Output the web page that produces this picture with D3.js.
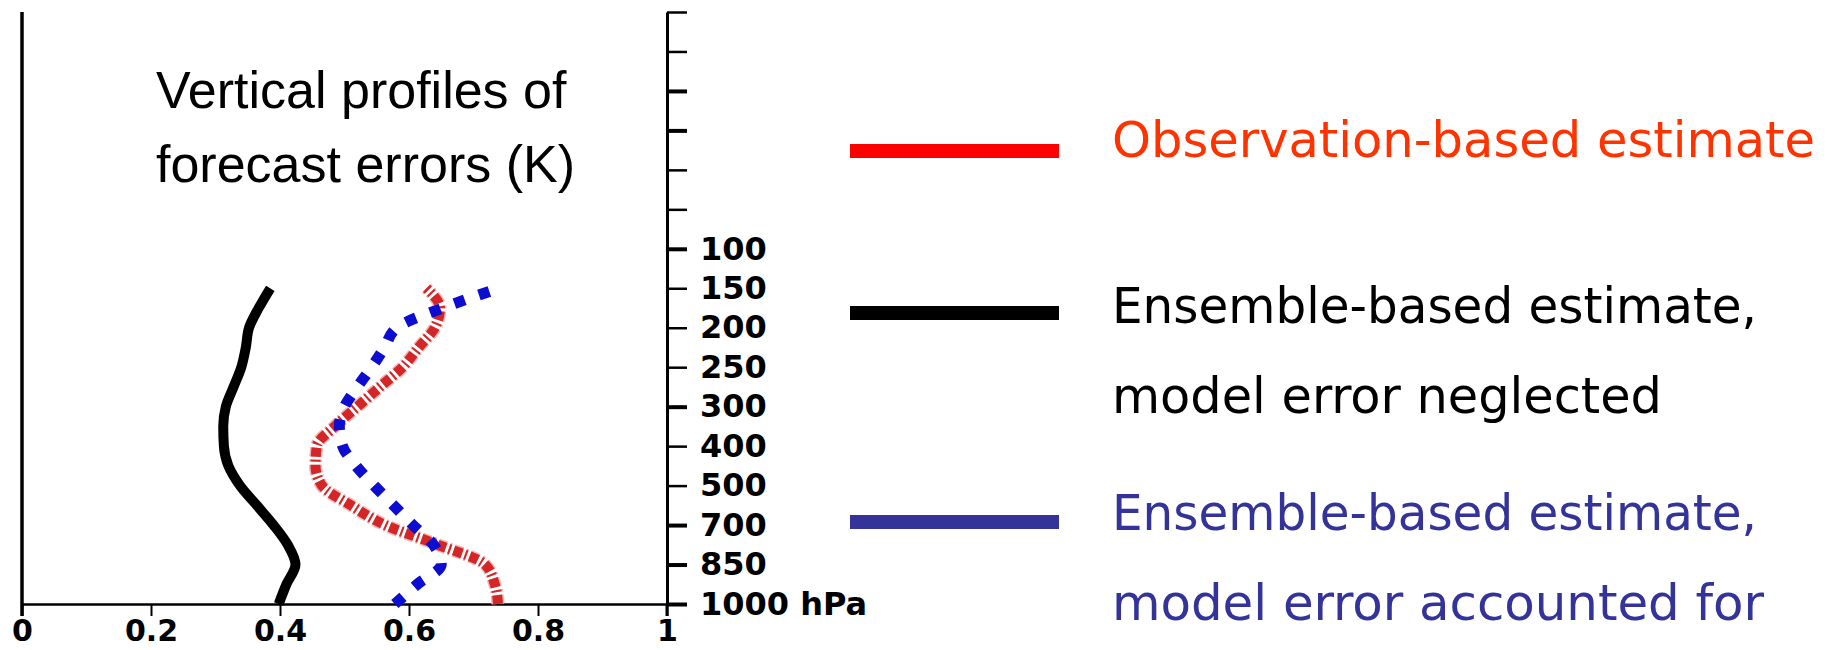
<!DOCTYPE html>
<html lang="en">

<head>
  <meta charset="UTF-8">
  <title>Vertical profiles of forecast errors</title>
  <script src="https://d3js.org/d3.v7.min.js"></script>
  <style>
    body { margin: 0; background: #fff; }
  </style>
</head>

<body>
  <script>

    // pressure levels, bottom to top (evenly spaced on the axis)
    var levels = ["1000 hPa", "850", "700", "500", "400", "300", "250", "200", "150", "100"];
    var axisSlots = 16; // 10 labelled + 6 unlabelled ticks above 100 hPa

    // sample positions along the level axis (0 = 1000 hPa, 8 = 150 hPa)
    var samplePos = [0, 0.5, 1, 1.5, 2, 2.5, 3, 3.5, 4, 4.5, 5, 5.5, 6, 6.5, 7, 7.5, 8];

    // forecast error (K)
    var obsBased = [0.738, 0.733, 0.718, 0.645, 0.563, 0.51, 0.465, 0.455, 0.457, 0.485, 0.52, 0.555, 0.59, 0.615, 0.64, 0.648, 0.627];
    var ensNeglected = [0.398, 0.41, 0.424, 0.412, 0.39, 0.364, 0.338, 0.32, 0.313, 0.312, 0.316, 0.328, 0.34, 0.347, 0.352, 0.367, 0.385];
    var ensAccounted = [0.578, 0.613, 0.65, 0.638, 0.606, 0.576, 0.546, 0.518, 0.497, 0.492, 0.5, 0.52, 0.542, 0.562, 0.581, 0.652, 0.74];

    var xTicks = [0, 0.2, 0.4, 0.6, 0.8, 1];

    var titleLines = ["Vertical profiles of", "forecast errors (K)"];

    var legendItems = [
      { lines: ["Observation-based estimate"], stroke: "#ff0000", text: "#ff3300" },
      { lines: ["Ensemble-based estimate,", "model error neglected"], stroke: "#000000", text: "#000000" },
      { lines: ["Ensemble-based estimate,", "model error accounted for"], stroke: "#333399", text: "#333399" }
    ];

    var width = 1836, height = 650;

    var svg = d3.select("body").append("svg")
      .attr("width", width)
      .attr("height", height);

    var x = d3.scaleLinear().domain([0, 1]).range([22, 667]);
    var y = d3.scaleLinear().domain([0, axisSlots - 1]).range([604, 12]);

    // left frame line
    svg.append("line")
      .attr("x1", x(0)).attr("x2", x(0))
      .attr("y1", y(axisSlots - 1)).attr("y2", y(0) + 12)
      .attr("stroke", "#000").attr("stroke-width", 3.5);

    // bottom axis
    var xAxis = svg.append("g")
      .attr("transform", "translate(0," + y(0) + ")")
      .call(d3.axisBottom(x)
        .tickValues(xTicks)
        .tickSize(12)
        .tickSizeOuter(0)
        .tickPadding(4)
        .tickFormat(function (d) { return String(+d.toFixed(1)); }));
    xAxis.select(".domain").attr("stroke-width", 2.5);
    xAxis.selectAll(".tick line").attr("stroke-width", 2);
    xAxis.selectAll("text")
      .attr("font-family", "DejaVu Sans")
      .attr("font-weight", "bold")
      .attr("font-size", 30)
      .attr("fill", "#000");

    // right pressure axis
    var yAxis = svg.append("g")
      .attr("transform", "translate(" + x(1) + ",0)")
      .call(d3.axisRight(y)
        .tickValues(d3.range(axisSlots))
        .tickSize(20)
        .tickSizeOuter(0)
        .tickPadding(13)
        .tickFormat(function (d) { return d < levels.length ? levels[d] : ""; }));
    yAxis.select(".domain").attr("stroke-width", 3);
    yAxis.selectAll(".tick line").attr("stroke-width", function (d) {
      return [0, 1, 2, 5, 9, 12, 13].indexOf(d) >= 0 ? 4 : 2.5;
    });
    yAxis.selectAll("text")
      .attr("font-family", "DejaVu Sans")
      .attr("font-weight", "bold")
      .attr("font-size", 32)
      .attr("fill", "#000");
    svg.append("line")
      .attr("x1", x(1)).attr("x2", x(1))
      .attr("y1", y(0)).attr("y2", y(0) + 12)
      .attr("stroke", "#000").attr("stroke-width", 3);

    // profiles
    function profile(values) {
      return d3.line()
        .x(function (d, i) { return x(values[i]); })
        .y(function (d) { return y(d); })
        .curve(d3.curveMonotoneY)(samplePos);
    }

    svg.append("path")
      .attr("d", profile(ensNeglected))
      .attr("fill", "none")
      .attr("stroke", "#000")
      .attr("stroke-width", 10);

    svg.append("path")
      .attr("d", profile(obsBased))
      .attr("fill", "none")
      .attr("stroke", "#f4b4b4")
      .attr("stroke-width", 13)
      .attr("stroke-dasharray", "9,3,2,3");
    svg.append("path")
      .attr("d", profile(obsBased))
      .attr("fill", "none")
      .attr("stroke", "#d42626")
      .attr("stroke-width", 10)
      .attr("stroke-dasharray", "9,3,2,3");

    svg.append("path")
      .attr("d", profile(ensAccounted))
      .attr("fill", "none")
      .attr("stroke", "#0d0dd2")
      .attr("stroke-width", 11)
      .attr("stroke-dasharray", "11,15")
      .attr("stroke-linejoin", "round");

    // title
    svg.append("g").selectAll("text")
      .data(titleLines)
      .enter()
      .append("text")
      .attr("x", 156)
      .attr("y", function (d, i) { return 108 + i * 74; })
      .attr("font-family", "Liberation Sans, Arial, sans-serif")
      .attr("font-size", 52)
      .attr("fill", "#000")
      .text(function (d) { return d; });

    // legend
    var legendLineY = [151, 313, 522];
    var legendBaselines = [[157], [323, 413], [530, 620]];
    var legendWidths = [[703], [645, 550], [645, 652]];

    legendItems.forEach(function (item, k) {
      svg.append("line")
        .attr("x1", 850).attr("x2", 1059)
        .attr("y1", legendLineY[k]).attr("y2", legendLineY[k])
        .attr("stroke", item.stroke)
        .attr("stroke-width", 14);
      item.lines.forEach(function (t, j) {
        svg.append("text")
          .attr("x", 1112)
          .attr("y", legendBaselines[k][j])
          .attr("font-family", "DejaVu Sans Condensed, DejaVu Sans, sans-serif")
          .attr("font-size", 50)
          .attr("textLength", legendWidths[k][j])
          .attr("lengthAdjust", "spacingAndGlyphs")
          .attr("fill", item.text)
          .text(t);
      });
    });

  </script>
</body>

</html>
